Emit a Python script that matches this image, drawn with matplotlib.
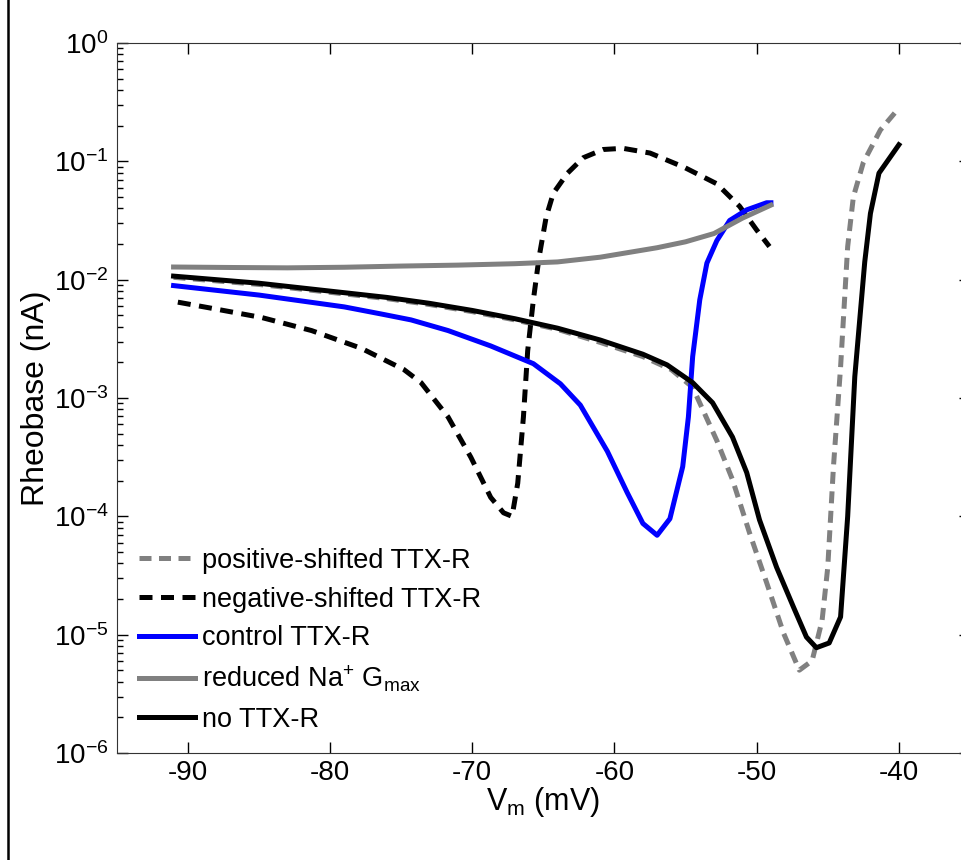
import numpy as np
import matplotlib.pyplot as plt
from matplotlib.lines import Line2D

plt.rcParams['font.family'] = ['Liberation Sans', 'DejaVu Sans']
plt.rcParams['mathtext.fontset'] = 'custom'
plt.rcParams['mathtext.rm'] = 'Liberation Sans'
plt.rcParams['mathtext.it'] = 'Liberation Sans'
plt.rcParams['axes.unicode_minus'] = False

# membrane potential (mV) and log10 of rheobase (nA)
vm_none = [-91, -88, -85, -82, -79, -76, -73, -70, -67, -64, -61, -58, -56.3, -54.5, -53.1,
           -51.7, -50.7, -49.8, -48.6, -47.4, -46.5, -45.8, -44.9, -44.1, -43.6, -43.1,
           -42.4, -42, -41.4, -40]
lg_none = [-1.97, -2.0, -2.03, -2.07, -2.11, -2.15, -2.2, -2.26, -2.33, -2.41, -2.51, -2.63,
           -2.72, -2.87, -3.04, -3.33, -3.63, -4.03, -4.43, -4.77, -5.02, -5.11, -5.07, -4.85,
           -4.0, -2.82, -1.85, -1.44, -1.1, -0.86]

vm_pos = [-91, -88, -85, -82, -79, -76, -73, -70, -67, -64, -61, -58, -56, -54.5, -52.8,
          -51.7, -50.5, -49.3, -48.1, -47.0, -46.1, -45.4, -45.0, -44.6, -44.1, -43.6,
          -43.2, -42.5, -41.3, -40]
lg_pos = [-1.98, -2.01, -2.04, -2.08, -2.12, -2.16, -2.21, -2.27, -2.34, -2.42, -2.53, -2.65,
          -2.76, -2.91, -3.36, -3.69, -4.14, -4.56, -4.99, -5.30, -5.22, -4.88, -4.43, -3.58,
          -2.74, -1.72, -1.30, -1.01, -0.735, -0.55]

vm_neg = [-90.7, -88.4, -84.8, -81.3, -77.8, -74.8, -73.6, -71.7, -70.1, -68.7, -67.8, -67.2,
          -66.8, -66.4, -66.1, -65.7, -65.3, -64.8, -64.3, -63.3, -62.2, -60.8, -59.4, -57.5,
          -55.1, -52.8, -51.2, -50.0, -49.1]
lg_neg = [-2.19, -2.24, -2.32, -2.43, -2.58, -2.76, -2.87, -3.16, -3.5, -3.84, -3.97, -4.0,
          -3.72, -3.16, -2.6, -2.17, -1.81, -1.47, -1.27, -1.1, -0.97, -0.9, -0.89, -0.93,
          -1.05, -1.19, -1.38, -1.58, -1.72]

vm_ctrl = [-91, -88, -85, -82, -79, -76.4, -74.3, -71.7, -68.7, -65.7, -63.8, -62.4, -60.5,
           -59.1, -58.0, -57.0, -56.1, -55.2, -54.8, -54.5, -54.0, -53.5, -52.8, -51.9,
           -50.7, -49.3, -49]
lg_ctrl = [-2.05, -2.09, -2.13, -2.18, -2.23, -2.29, -2.34, -2.43, -2.56, -2.71, -2.88, -3.06,
           -3.45, -3.8, -4.06, -4.16, -4.02, -3.58, -3.16, -2.65, -2.17, -1.86, -1.67, -1.5,
           -1.41, -1.35, -1.35]

vm_red = [-91, -87, -83, -79, -75, -71, -67, -64, -61, -59, -57, -55, -53, -51, -49]
lg_red = [-1.893, -1.897, -1.9, -1.895, -1.885, -1.877, -1.865, -1.85, -1.81, -1.77, -1.73,
          -1.68, -1.61, -1.48, -1.37]

labels = ['positive-shifted TTX-R', 'negative-shifted TTX-R', 'control TTX-R',
          'reduced Na$^{+}$ G$_{max}$', 'no TTX-R']

fig = plt.figure(figsize=(9.62, 8.6), dpi=100)
ax = fig.add_axes([0.1213, 0.1244, 0.887, 0.8256])

lw = 3.6
ax.plot(vm_pos, 10 ** np.array(lg_pos), color='#808080', lw=lw, ls=(0, (2.4, 1.5)), label=labels[0])
ax.plot(vm_neg, 10 ** np.array(lg_neg), color='black', lw=lw, ls=(0, (2.6, 1.7)), label=labels[1])
ax.plot(vm_ctrl, 10 ** np.array(lg_ctrl), color='#0000ff', lw=lw, label=labels[2])
ax.plot(vm_red, 10 ** np.array(lg_red), color='#808080', lw=lw, label=labels[3])
ax.plot(vm_none, 10 ** np.array(lg_none), color='black', lw=lw, label=labels[4])

ax.set_yscale('log')
ax.set_xlim(-95, -35)
ax.set_ylim(1e-6, 1)
ax.set_xticks([-90, -80, -70, -60, -50, -40])
ax.set_yticks([10.0 ** k for k in range(-6, 1)])
ax.tick_params(which='both', direction='in', top=True, right=True)
ax.tick_params(axis='x', labelsize=20, pad=5)
ax.tick_params(axis='y', labelsize=20, pad=6)
ax.tick_params(which='major', length=8, width=1)
ax.tick_params(which='minor', length=4, width=1)
for s in ax.spines.values():
    s.set_color('#333333')

ax.set_xlabel('V$_m$ (mV)', fontsize=22, labelpad=-1)
ax.set_ylabel('Rheobase (nA)', fontsize=23)
ax.yaxis.set_label_coords(-0.077, 0.5)

ax.legend(loc='lower left', bbox_to_anchor=(0.013, 0.013), frameon=False, fontsize=19.5,
          handlelength=2.1, handletextpad=0.25, labelspacing=0.47, borderaxespad=0)

fig.add_artist(Line2D([0.0085, 0.0085], [0, 1], color='black', lw=1.8))

fig.savefig('out.png', dpi=100)
